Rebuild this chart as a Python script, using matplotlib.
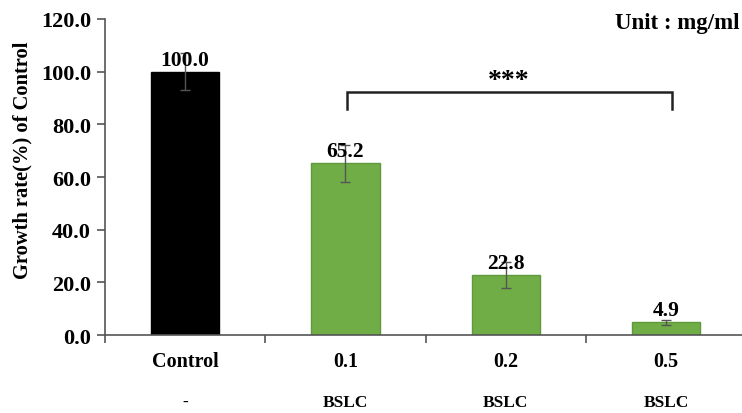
import matplotlib.pyplot as plt
from matplotlib.transforms import blended_transform_factory

plt.rcParams['font.family'] = ['Liberation Serif', 'DejaVu Serif']
plt.rcParams['font.weight'] = 'bold'

categories = ['Control', '0.1', '0.2', '0.5']
treatments = ['-', 'BSLC', 'BSLC', 'BSLC']
growth = [100.0, 65.2, 22.8, 4.9]
errors = [7.0, 7.0, 5.0, 1.0]
colors = ['#000000', '#70AD47', '#70AD47', '#70AD47']
edges = ['#000000', '#5E9A3A', '#5E9A3A', '#5E9A3A']
y_ticks = [0, 20, 40, 60, 80, 100, 120]

fig = plt.figure(figsize=(7.42, 4.14), dpi=100)
ax = fig.add_axes([0.1415, 0.188, 0.862, 0.764])

x = list(range(len(categories)))
ax.bar(x, growth, width=0.425, color=colors, edgecolor=edges, linewidth=1.0, zorder=2)
ax.errorbar(x, growth, yerr=errors, fmt='none', ecolor='#555555', elinewidth=1.0,
            capsize=3.5, capthick=1.0, zorder=3)

for xi, v in zip(x, growth):
    ax.annotate(f'{v:.1f}', (xi, v), xytext=(0, 1.5), textcoords='offset points',
                ha='center', va='bottom', fontsize=15.5, fontweight='bold', zorder=4)

# significance bracket between 0.1 and 0.5
br_top, br_bot = 92.2, 85.8
ax.plot([1.01, 1.01, 3.04, 3.04], [br_bot, br_top, br_top, br_bot],
        color='#222222', lw=1.8, solid_joinstyle='miter', zorder=3)
ax.text(2.02, br_top - 0.5, '***', ha='center', va='bottom', fontsize=20, fontweight='bold')

ax.set_xlim(-0.5, 3.49)
ax.set_ylim(0, 120)
ax.set_yticks(y_ticks)
ax.set_yticklabels([f'{t:.1f}' for t in y_ticks], fontsize=16, fontweight='bold')
ax.set_ylabel('Growth rate(%) of Control', fontsize=14.8, fontweight='bold')
ax.yaxis.set_label_coords(-0.114, 0.555)

ax.set_xticks([-0.5, 0.5, 1.5, 2.5])
ax.set_xticklabels([])
ax.tick_params(axis='x', length=6, width=1.2, color='#555555', direction='out')
ax.tick_params(axis='y', length=6, width=1.2, color='#555555', direction='out', pad=4)

trans = blended_transform_factory(ax.transData, fig.transFigure)
for xi, c, t in zip(x, categories, treatments):
    ax.text(xi, 1 - 362 / 414, c, transform=trans, ha='center', va='center',
            fontsize=14.5, fontweight='bold')
    ax.text(xi, 1 - 403 / 414, t, transform=trans, ha='center', va='center',
            fontsize=12.5, fontweight='bold')

fig.text(0.997, 1 - 24 / 414, 'Unit : mg/ml', ha='right', va='center',
         fontsize=16.5, fontweight='bold')

for s in ['top', 'right']:
    ax.spines[s].set_visible(False)
for s in ['left', 'bottom']:
    ax.spines[s].set_color('#555555')
    ax.spines[s].set_linewidth(1.2)

fig.savefig('out.png', dpi=100)
